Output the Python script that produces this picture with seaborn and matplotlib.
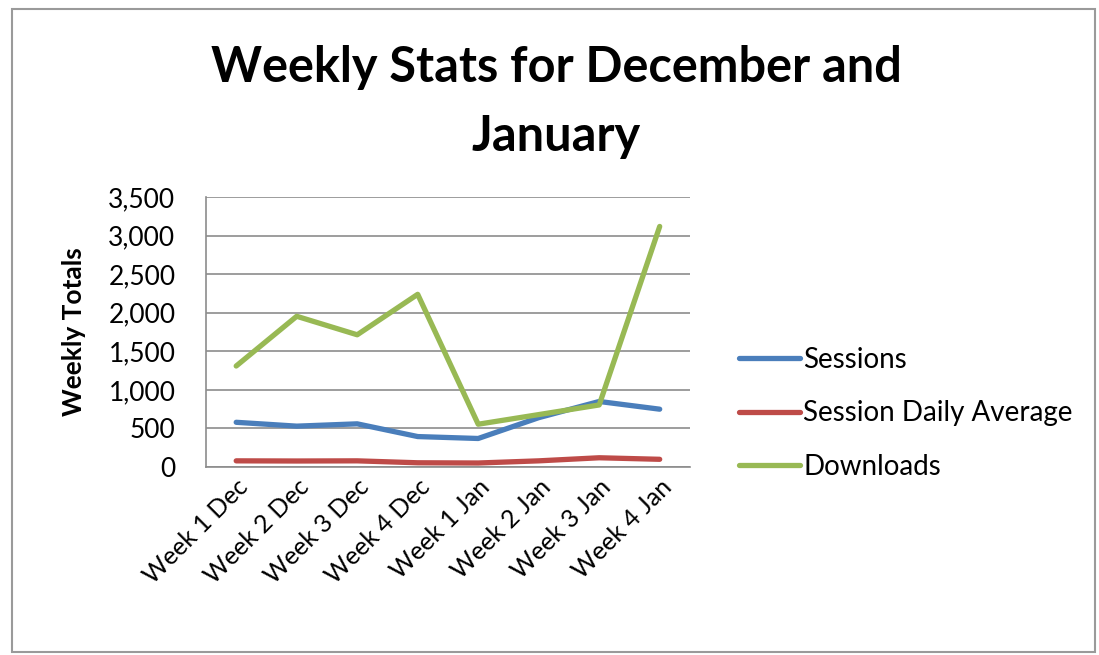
import matplotlib
matplotlib.use("Agg")
import matplotlib.pyplot as plt
import seaborn as sns
import pandas as pd
from matplotlib.patches import Rectangle
from matplotlib.ticker import FuncFormatter, MultipleLocator

weeks = ["Week 1 Dec", "Week 2 Dec", "Week 3 Dec", "Week 4 Dec",
         "Week 1 Jan", "Week 2 Jan", "Week 3 Jan", "Week 4 Jan"]
sessions = [580, 530, 560, 395, 370, 640, 850, 750]
daily_avg = [80, 78, 80, 55, 52, 80, 120, 100]
downloads = [1310, 1955, 1715, 2240, 555, 680, 805, 3120]
series_names = ["Sessions", "Session Daily Average", "Downloads"]
colors = ["#4A7EBB", "#BE4B48", "#98B954"]

df = pd.DataFrame({
    "Week": weeks * 3,
    "Value": sessions + daily_avg + downloads,
    "Series": [series_names[0]] * 8 + [series_names[1]] * 8 + [series_names[2]] * 8,
})

sns.set_theme(style="white")
plt.rcParams["font.family"] = ["Lato", "DejaVu Sans"]
plt.rcParams["text.color"] = "black"
plt.rcParams["xtick.color"] = "black"
plt.rcParams["ytick.color"] = "black"
plt.rcParams["axes.labelcolor"] = "black"

fig = plt.figure(figsize=(10.99, 6.55), dpi=100)
ax = fig.add_axes([0.1874, 0.287, 0.4404, 0.412])

sns.lineplot(data=df, x="Week", y="Value", hue="Series", palette=colors,
             hue_order=series_names, sort=False, linewidth=3.8, ax=ax,
             legend=True)

ax.set_ylim(0, 3500)
ax.set_xlim(-0.5, 7.5)
ax.yaxis.set_major_locator(MultipleLocator(500))
ax.yaxis.set_major_formatter(FuncFormatter(lambda v, p: f"{int(v):,}"))
ax.grid(axis="y", color="#8c8c8c", linewidth=1.2)
ax.set_axisbelow(True)
for s in ["top", "right"]:
    ax.spines[s].set_visible(False)
for s in ["left", "bottom"]:
    ax.spines[s].set_color("#8c8c8c")
    ax.spines[s].set_linewidth(1.2)
ax.tick_params(axis="y", labelsize=19, pad=22, length=0)
ax.tick_params(axis="x", labelsize=18, length=0, pad=6)
plt.setp(ax.get_xticklabels(), rotation=45, ha="right", rotation_mode="anchor")
ax.set_xlabel("")
ax.set_ylabel("Weekly Totals", fontsize=19, fontweight="bold", labelpad=16)

handles, labels = ax.get_legend_handles_labels()
leg = ax.legend(handles, labels, loc="center left",
                bbox_to_anchor=(0.65, 0.369), bbox_transform=fig.transFigure,
                frameon=False, fontsize=20, handlelength=2.2, handletextpad=0.1,
                labelspacing=1.0)

fig.text(0.506, 0.897, "Weekly Stats for December and", ha="center", va="center",
         fontsize=35, fontweight="bold")
fig.text(0.506, 0.792, "January", ha="center", va="center",
         fontsize=35, fontweight="bold")

fig.patches.append(Rectangle((0.011, 0.005), 0.985, 0.982, transform=fig.transFigure,
                             fill=False, edgecolor="#9a9a9a", linewidth=1.5))

fig.savefig("out.png", dpi=100)
